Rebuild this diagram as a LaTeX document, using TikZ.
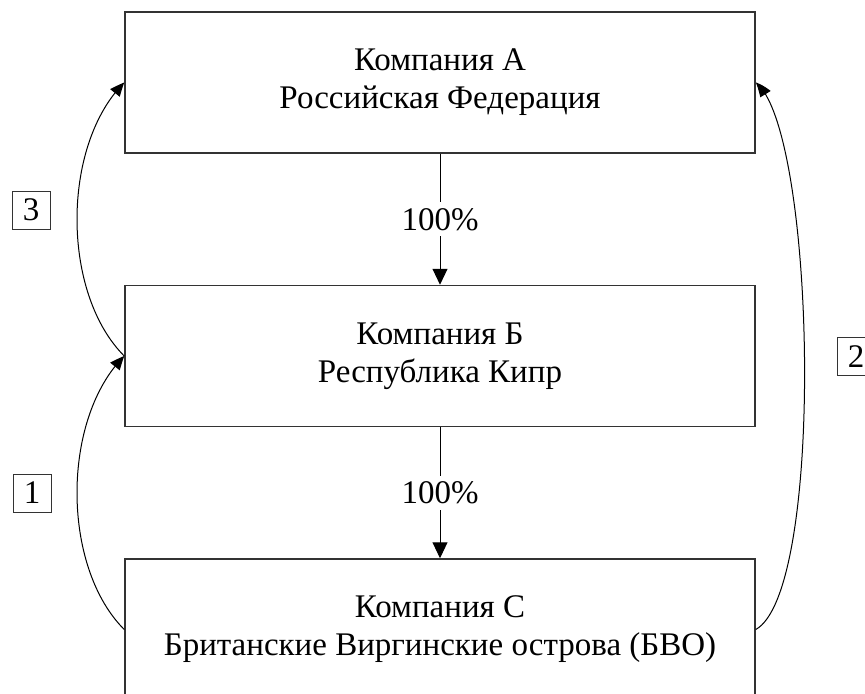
\documentclass[tikz,border=0pt]{standalone}
\usepackage{fontspec}
\setmainfont{Liberation Serif}
\usetikzlibrary{arrows.meta,bending}

\begin{document}
\begin{tikzpicture}[x=0.5pt,y=0.5pt,
    font=\fontsize{16.5pt}{19pt}\selectfont,
    firm/.style={draw=black!80,line width=0.75pt,minimum width=315pt,
      minimum height=70.5pt,align=center},
    num/.style={draw=black!80,line width=0.5pt,minimum size=19pt,inner sep=0pt},
    share/.style={-{Triangle[length=8pt,width=7.5pt]},line width=0.5pt},
    flow/.style={-{Triangle[length=7pt,width=6pt,bend]},line width=0.5pt},
    pct/.style={fill=white,inner sep=3pt}]
  \useasboundingbox (0,0) rectangle (865,693);
  % companies
  \node[firm] (A) at (440,610.5) {Компания А\\Российская Федерация};
  \node[firm] (B) at (440,337) {Компания Б\\Республика Кипр};
  \node[firm] (C) at (440,63.5) {Компания С\\Британские Виргинские острова (БВО)};
  % ownership
  \draw[share] (A) -- node[pct]{100\%} (B);
  \draw[share] (B) -- node[pct]{100\%} (C);
  % flows
  \draw[flow] (B.west) .. controls +(-63,63) and +(-63,-63) .. (A.west);
  \draw[flow] (C.west) .. controls +(-63,63) and +(-63,-63) .. (B.west);
  \draw[flow] (C.east) .. controls +(70,39) and +(60,-46) .. (A.east);
  \node[num] (n3) at (31,483) {3};
  \node[num] (n1) at (32,200) {1};
  \node[num] (n2) at (856,336.5) {2};
\end{tikzpicture}
\end{document}
